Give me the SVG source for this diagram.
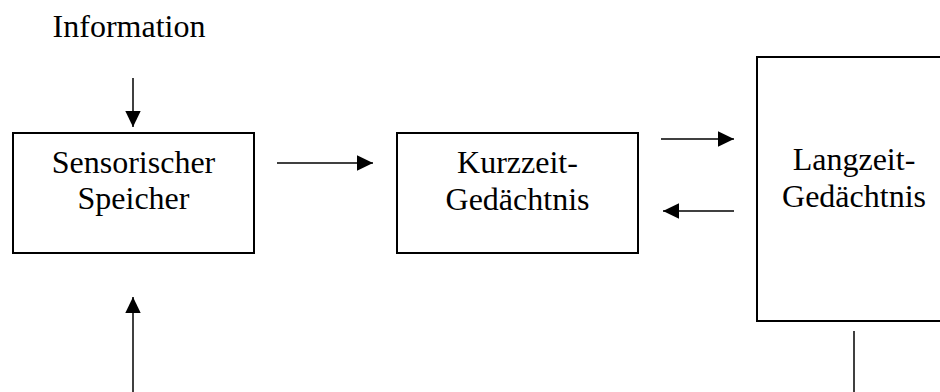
<svg xmlns="http://www.w3.org/2000/svg" width="940" height="392" viewBox="0 0 940 392">
<style>
.box{fill:#fff;stroke:#000;stroke-width:2}
.lbl{font-family:"Liberation Serif","Times New Roman",serif;font-size:32px;fill:#000;text-anchor:middle}
.con{stroke:#000;stroke-width:1.5;fill:none}
</style>
<defs>
<marker id="ah" markerUnits="userSpaceOnUse" markerWidth="16" markerHeight="16" viewBox="0 0 16 16" refX="16" refY="8" orient="auto">
<path d="M0,0.3 L16,8 L0,15.7 Z" fill="#000"/>
</marker>
</defs>
<rect width="940" height="392" fill="#fff"/>
<text class="lbl" x="129" y="37">Information</text>
<g id="sensorischer-speicher">
<rect class="box" x="13" y="133" width="241" height="120"/>
<text class="lbl" x="133.5" y="173">Sensorischer</text>
<text class="lbl" x="133.5" y="209">Speicher</text>
</g>
<g id="kurzzeit-gedaechtnis">
<rect class="box" x="397" y="133" width="241" height="120"/>
<text class="lbl" x="517.5" y="173">Kurzzeit-</text>
<text class="lbl" x="517.5" y="210">Gedächtnis</text>
</g>
<g id="langzeit-gedaechtnis">
<rect class="box" x="757" y="57" width="194" height="264"/>
<text class="lbl" x="854" y="170">Langzeit-</text>
<text class="lbl" x="854" y="207">Gedächtnis</text>
</g>
<g id="connectors">
<line class="con" x1="133" y1="78" x2="133" y2="127" marker-end="url(#ah)"/>
<line class="con" x1="277" y1="163" x2="373" y2="163" marker-end="url(#ah)"/>
<line class="con" x1="661" y1="139" x2="734" y2="139" marker-end="url(#ah)"/>
<line class="con" x1="734" y1="211" x2="663" y2="211" marker-end="url(#ah)"/>
<line class="con" x1="133" y1="392" x2="133" y2="297" marker-end="url(#ah)"/>
<line class="con" x1="854" y1="331" x2="854" y2="392"/>
</g>
</svg>
